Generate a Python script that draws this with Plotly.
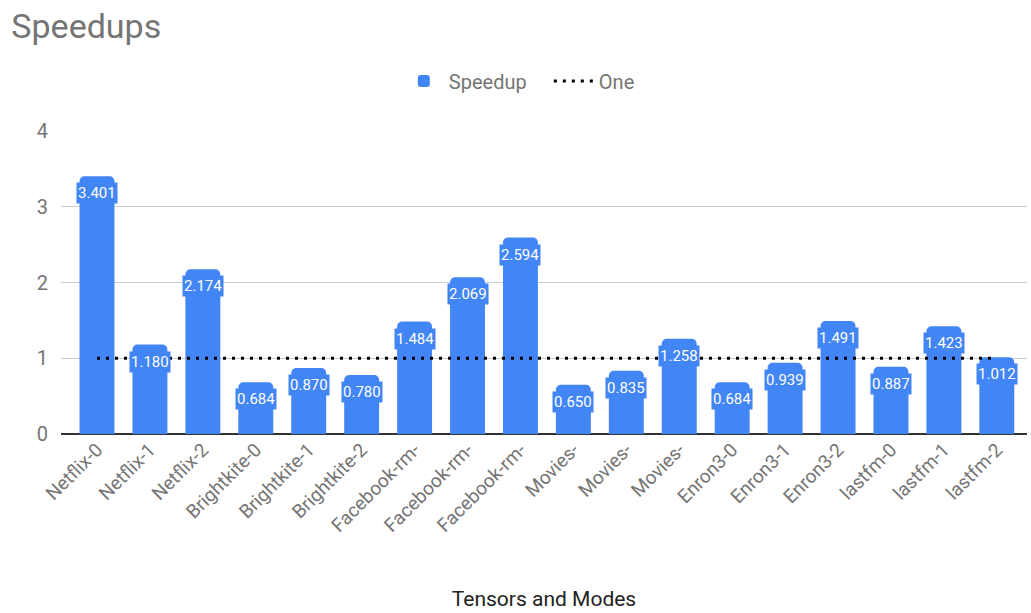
import plotly.graph_objects as go

# Tensor/mode labels (long names are cut short on the axis)
tick_labels = [
    "Netflix-0", "Netflix-1", "Netflix-2",
    "Brightkite-0", "Brightkite-1", "Brightkite-2",
    "Facebook-rm-", "Facebook-rm-", "Facebook-rm-",
    "Movies-", "Movies-", "Movies-",
    "Enron3-0", "Enron3-1", "Enron3-2",
    "lastfm-0", "lastfm-1", "lastfm-2",
]
speedups = [
    3.401, 1.180, 2.174,
    0.684, 0.870, 0.780,
    1.484, 2.069, 2.594,
    0.650, 0.835, 1.258,
    0.684, 0.939, 1.491,
    0.887, 1.423, 1.012,
]
baseline = [1.0] * len(speedups)

positions = list(range(len(tick_labels)))
BLUE = "#4285f4"
GREY = "#757575"

fig = go.Figure()
fig.add_trace(go.Bar(
    x=positions, y=speedups, name="Speedup",
    marker=dict(color=BLUE, line=dict(width=0)),
    width=0.66,
))
fig.add_trace(go.Scatter(
    x=positions, y=baseline, name="One", mode="lines",
    line=dict(color="black", width=3, dash="3px,6px"),
))

# value labels sitting just inside each bar's top
for xi, v in zip(positions, speedups):
    fig.add_annotation(
        x=xi, y=v, xref="x", yref="y",
        text=f"{v:.3f}", showarrow=False,
        yanchor="top", yshift=-6,
        font=dict(family="Roboto", size=15, color="white"),
        bgcolor=BLUE, borderpad=1,
    )

fig.update_layout(
    width=1031, height=613,
    paper_bgcolor="white", plot_bgcolor="white",
    font=dict(family="Roboto", color=GREY),
    margin=dict(l=61, r=4, t=131, b=179),
    barcornerradius=5,
    title=dict(
        text="Speedups", x=0.011, xanchor="left", y=0.958, yanchor="middle",
        font=dict(family="Roboto", size=34, color=GREY),
    ),
    legend=dict(
        orientation="h", x=0.505, xanchor="center",
        y=1.165, yanchor="middle",
        font=dict(family="Roboto", size=20, color=GREY),
        itemwidth=40, entrywidth=95,
    ),
    showlegend=True,
    xaxis=dict(
        tickmode="array", tickvals=positions, ticktext=tick_labels,
        tickangle=-45, range=[-0.68, 17.57],
        tickfont=dict(family="Roboto", size=19, color=GREY),
        showgrid=False, zeroline=False, showline=False, ticks="",
        title=dict(text="Tensors and Modes", standoff=55,
                   font=dict(family="Roboto", size=21, color="#222222")),
        automargin=False,
    ),
    yaxis=dict(
        range=[0, 4], tickvals=[0, 1, 2, 3, 4],
        tickfont=dict(family="Roboto", size=20, color=GREY),
        showgrid=True, gridcolor="#cccccc", gridwidth=1,
        zeroline=True, zerolinecolor="#333333", zerolinewidth=2,
        ticks="", ticklabelstandoff=12,
    ),
)

fig.write_html("out.html")
